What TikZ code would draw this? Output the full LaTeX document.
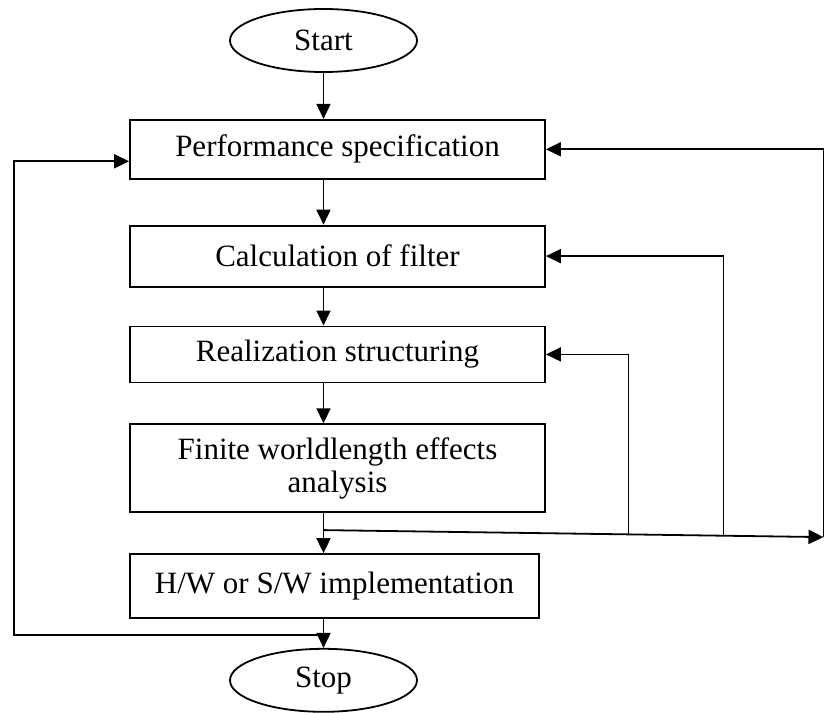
\documentclass[tikz,border=0pt]{standalone}
\usepackage{fontspec}
\setmainfont{Liberation Serif}
\usepackage{tikz}
\usetikzlibrary{positioning,shapes,arrows.meta,calc}
\tikzstyle{process}=[rectangle, draw=black, line width=0.9pt, text centered,
        minimum width=207.5pt, inner sep=2pt, font=\fontsize{15.5}{16.5}\selectfont]
\tikzstyle{terminal}=[ellipse, draw=black, line width=0.9pt, text centered,
        minimum width=93.5pt, minimum height=31.5pt, inner sep=0pt,
        font=\fontsize{15.5}{16.5}\selectfont]
\tikzstyle{flow}=[->, line width=0.9pt]

\begin{document}
\begin{tikzpicture}[node distance=20pt, >={Triangle[length=7.5pt,width=7pt]}]
        \node (start) [terminal] {Start};
        \node (perf) [process, minimum height=29.5pt, below=23pt of start, xshift=7pt]
          {Performance specification};
        \node (calc) [process, minimum height=30.5pt, below=22.5pt of perf]
          {Calculation of filter};
        \node (real) [process, minimum height=28pt, below=19pt of calc]
          {Realization structuring};
        \node (finite) [process, minimum height=44pt, align=center, below=of real]
          {Finite worldlength effects\\analysis};
        \node (hw) [process, minimum height=32pt, minimum width=204.5pt,
          below=of finite.south west, anchor=north west]
          {H/W or S/W implementation};
        \node (stop) [terminal, below=14.5pt of hw, xshift=-5.5pt] {Stop};

        \useasboundingbox ($(start.center)+(-161.75pt,20.25pt)$) rectangle ++(417pt,-351.5pt);

        % main flow
        \draw[flow] (start.south) -- (start.south |- perf.north);
        \draw[flow] (start |- perf.south) -- (start |- calc.north);
        \draw[flow] (start |- calc.south) -- (start |- real.north);
        \draw[flow] (start |- real.south) -- (start |- finite.north);
        \draw[flow] (start |- finite.south) -- (start |- hw.north);
        \draw[flow] (start |- hw.south) -- (stop.north);

        % feedback paths on the right
        \coordinate (split) at ($(start |- finite.south)+(0,-8.5pt)$);
        \coordinate (tap) at ($(split)+(250pt,-3.5pt)$);
        \coordinate (realtap) at ($(split)!0.61!(tap)$);
        \coordinate (calctap) at ($(split)!0.80!(tap)$);
        \draw[flow] (split) -- (tap);
        \draw[flow] (tap) |- (perf.east);
        \draw[flow] (calctap) |- (calc.east);
        \draw[flow] (realtap) |- (real.east);

        % feedback path on the left
        \coordinate (merge) at ($(start |- hw.south)+(0,-8pt)$);
        \coordinate (perfin) at ($(perf.west)+(0,-6pt)$);
        \coordinate (lft) at ($(perfin)+(-57.5pt,0)$);
        \draw[flow] (merge) -| (lft) -- (perfin);
\end{tikzpicture}
\end{document}
